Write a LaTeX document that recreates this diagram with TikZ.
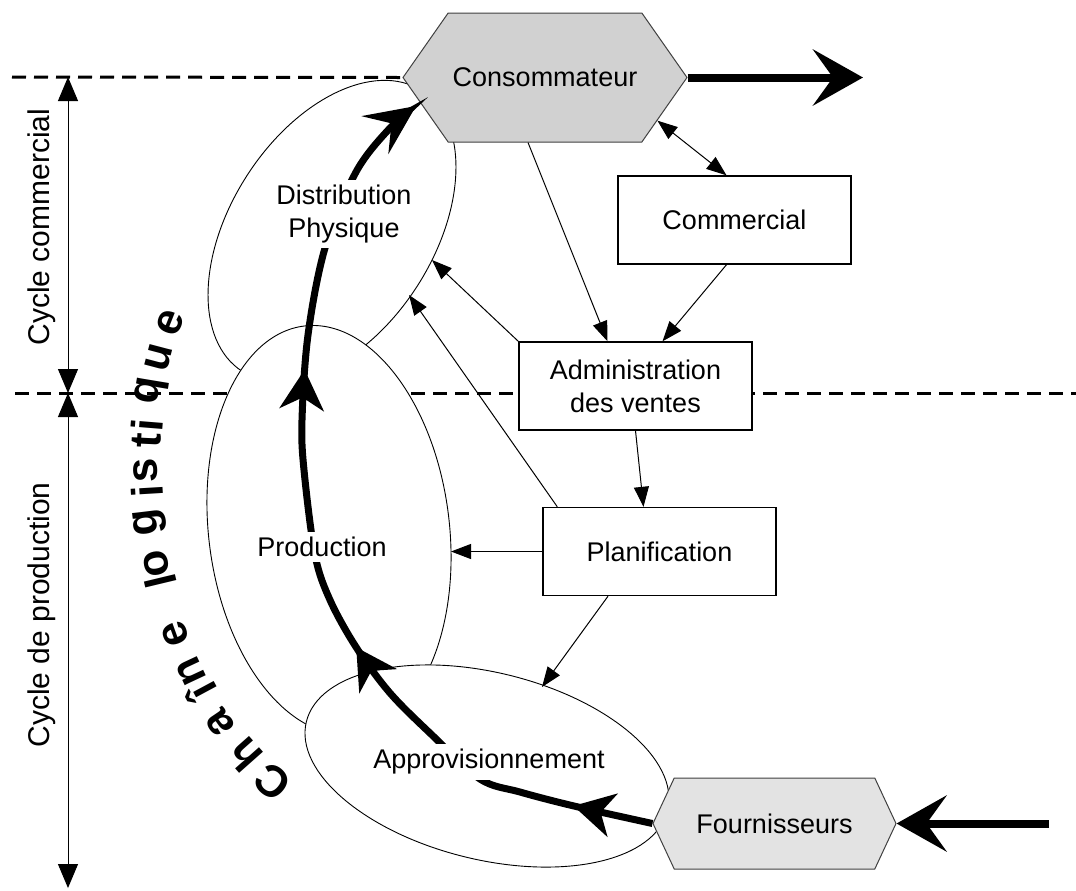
\documentclass[tikz,border=0pt]{standalone}
\usepackage{fontspec}
\setmainfont{Liberation Sans}
\usetikzlibrary{arrows.meta,shapes.geometric,shapes.symbols,decorations.markings}
\definecolor{consofill}{gray}{0.82}
\definecolor{fournfill}{gray}{0.89}
\begin{document}
\begin{tikzpicture}
[x=0.5pt,y=-0.5pt,
 every node/.style={font=\fontsize{13.5}{16.5}\selectfont},
 box/.style={draw,fill=white,line width=0.7pt,minimum width=116.5pt,minimum height=44pt,align=center},
 hexa/.style={signal,signal to=east and west,draw=black!75,line width=0.5pt,inner sep=0pt},
 zone/.style={ellipse,draw,fill=white,line width=0.45pt,inner sep=0pt},
 tag/.style={fill=white,inner sep=2.5pt,align=center},
 link/.style={line width=0.5pt,>={Triangle[length=10pt,width=7.5pt]},->},
 dimline/.style={line width=0.5pt,{Triangle[length=12pt,width=10pt]}-{Triangle[length=12pt,width=10pt]}},
 cutline/.style={line width=1.5pt,dash pattern=on 7pt off 4pt},
 bigarrow/.style={line width=4pt,-{Stealth[length=25pt,width=28pt,inset=10pt]}},
 flow/.style={line width=3.5pt,-{Stealth[length=25pt,width=23pt,inset=10pt]},
   decoration={markings,
     mark=at position 40.5pt with {\arrow{Stealth[length=20pt,width=22pt,inset=6pt]}},
     mark=at position 180pt with {\arrow{Stealth[length=20pt,width=22pt,inset=6pt]}},
     mark=at position 324pt with {\arrow{Stealth[length=20pt,width=22pt,inset=6pt]}}},
   postaction=decorate},
 chainletter/.style={font=\fontsize{22}{22}\selectfont\bfseries,sloped,allow upside down,inner sep=0pt}]
\useasboundingbox (0,0) rectangle (1076,890);

% separations between the two cycles
\coordinate (k1) at (12,77);
\coordinate (k2) at (15,393);
\coordinate (k3) at (1076,393);
\draw[cutline] (k2) -- (k3);

% cycles
\coordinate (c1) at (68,77);
\coordinate (c2) at (68,393);
\coordinate (c3) at (68,888);
\draw[dimline] (c1) -- (c2);
\draw[dimline] (c2) -- (c3);
\node[rotate=90,font=\fontsize{15}{18}\selectfont] (cyccom) at (42,227) {Cycle commercial};
\node[rotate=90,font=\fontsize{15}{18}\selectfont] (cycprod) at (42,615) {Cycle de production};

% the three stages
\node[zone,minimum width=166.6pt,minimum height=101.5pt,rotate=57.4] (distrib) at (332,231) {};
\node[zone,minimum width=205.5pt,minimum height=120.4pt,rotate=-83.1] (prod) at (329,530) {};
\node[zone,minimum width=186pt,minimum height=93.5pt,rotate=-13.8] (appro) at (487,766) {};

% services
\node[box] (comm) at (734.5,220) {Commercial};
\node[box] (admin) at (635.5,386) {Administration\\des ventes};
\node[box] (planif) at (659.5,551.5) {Planification};

\node[hexa,fill=consofill,minimum width=142pt,minimum height=64.5pt,signal pointer angle=110] (conso) at (545,77.5) {Consommateur};
\node[hexa,fill=fournfill,minimum width=121.5pt,minimum height=45.5pt,signal pointer angle=130] (fourn) at (774.5,823.5) {Fournisseurs};
\draw[cutline] (k1) -- (conso.west);

% information links
\coordinate (d1) at (432,260);
\coordinate (d2) at (409,295);
\coordinate (p1) at (451,551.5);
\coordinate (a1) at (542,687);
\draw[link,<->] (conso.-21) -- ([xshift=-4pt]comm.north);
\draw[link] ([xshift=-8.5pt]conso.south) -- ([xshift=-14pt]admin.north);
\draw[link] ([xshift=-4pt]comm.south) -- ([xshift=13.5pt]admin.north);
\draw[link] (admin.north west) -- (d1);
\draw[link] ([xshift=7.5pt]planif.north west) -- (d2);
\draw[link] (admin.south) -- ([xshift=-8pt]planif.north);
\draw[link] (planif.west) -- (p1);
\draw[link] ([xshift=-25.75pt]planif.south) -- (a1);

% physical flow
\draw[flow] plot[smooth,tension=0.55] coordinates {(fourn.west) (574,806) (520,792) (480,779)
  (432,735) (390,693) (356,647) (330,600) (315,555) (304,470) (302,420) (308,335)
  (325,248) (356,172) (390,128) (416,106)};
\node[tag] (tdist) at (344,214) {Distribution\\Physique};
\node[tag] (tprod) at (322,547) {Production};
\node[tag] (tappro) at (489,762) {Approvisionnement};

\coordinate (out) at (863,77.5);
\coordinate (in) at (1049,823.5);
\draw[bigarrow] (conso.east) -- (out);
\draw[bigarrow] (in) -- (fourn.east);

% chaine logistique
\coordinate (cs) at (273,782);
\coordinate (cc1) at (157.5,686);
\coordinate (cc2) at (114.5,462.5);
\coordinate (ce) at (170,323);
\foreach \ch/\t [count=\i] in {C/0,h/0.085,a/0.17,î/0.245,n/0.29,e/0.37,l/0.475,o/0.51,g/0.59,i/0.65,s/0.69,t/0.75,i/0.78,q/0.85,u/0.92,e/1}
  \path (cs) .. controls (cc1) and (cc2) .. (ce) node[chainletter,pos=\t] (ch\i) {\ch};
\end{tikzpicture}
\end{document}
